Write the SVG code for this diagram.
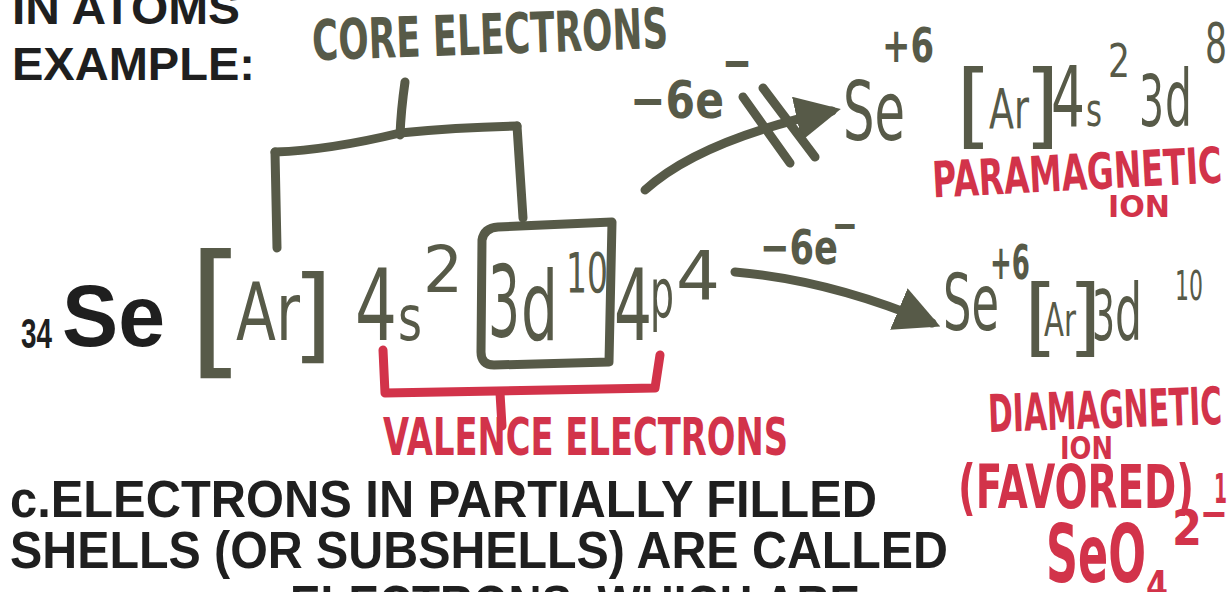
<svg xmlns="http://www.w3.org/2000/svg" width="1228" height="592" viewBox="0 0 1228 592">
<defs>
<style>
.pr{fill:#1f1f1f;font-family:"Liberation Sans",Arial,sans-serif;font-weight:bold}
.ol{fill:#575a48;font-family:"DejaVu Sans",sans-serif}
.olb{fill:#575a48;font-family:"DejaVu Sans",sans-serif;font-weight:bold}
.rd{fill:#d2334a;font-family:"DejaVu Sans",sans-serif;font-weight:bold}
.ln{stroke:#575a48;stroke-width:9;fill:none;stroke-linecap:round;stroke-linejoin:round}
.rl{stroke:#d2334a;stroke-width:9;fill:none;stroke-linecap:round;stroke-linejoin:round}
</style>
<marker id="ah" viewBox="0 0 10 10" refX="8" refY="5" markerWidth="5" markerHeight="5" markerUnits="strokeWidth" orient="auto">
<path d="M0,0 L10,5 L0,10 Z" fill="#575a48"/>
</marker>
</defs>
<rect width="1228" height="592" fill="#ffffff"/>

<g id="printed">
<text class="pr" x="12" y="24" font-size="47" textLength="228" lengthAdjust="spacingAndGlyphs">IN ATOMS</text>
<text class="pr" x="12" y="80" font-size="47" textLength="243" lengthAdjust="spacingAndGlyphs">EXAMPLE:</text>
<text class="pr" x="21" y="348" font-size="42" textLength="31" lengthAdjust="spacingAndGlyphs">34</text>
<text class="pr" x="62" y="346" font-size="88" textLength="103" lengthAdjust="spacingAndGlyphs">Se</text>
<text class="pr" x="10" y="517" font-size="52" textLength="867" lengthAdjust="spacingAndGlyphs">c.ELECTRONS IN PARTIALLY FILLED</text>
<text class="pr" x="10" y="568" font-size="52" textLength="938" lengthAdjust="spacingAndGlyphs">SHELLS (OR SUBSHELLS) ARE CALLED</text>
<text class="pr" x="290" y="622" font-size="52" textLength="570" lengthAdjust="spacingAndGlyphs">ELECTRONS, WHICH ARE</text>
</g>

<g id="core-label">
<text class="olb" x="312" y="54" font-size="56" textLength="356" lengthAdjust="spacingAndGlyphs" transform="rotate(-2 490 35)">CORE ELECTRONS</text>
</g>

<g id="se-config">
<text class="ol" x="188" y="359" font-size="146">[</text>
<text class="ol" x="236" y="340" font-size="80" textLength="64" lengthAdjust="spacingAndGlyphs">Ar</text>
<text class="ol" x="292" y="350" font-size="104">]</text>
<text class="ol" x="355" y="340" font-size="100" textLength="42" lengthAdjust="spacingAndGlyphs">4</text>
<text class="ol" x="398" y="340" font-size="62" textLength="24" lengthAdjust="spacingAndGlyphs">s</text>
<text class="ol" x="423" y="292" font-size="64" textLength="40" lengthAdjust="spacingAndGlyphs">2</text>
<path class="ln" d="M482,240 Q484,228 498,227 L612,222 L609,362 L494,365 Q481,365 481,352 Z"/>
<text class="ol" x="488" y="337" font-size="100" textLength="32" lengthAdjust="spacingAndGlyphs">3</text>
<text class="ol" x="521" y="340" font-size="96" textLength="37" lengthAdjust="spacingAndGlyphs">d</text>
<text class="ol" x="566" y="292" font-size="56" textLength="42" lengthAdjust="spacingAndGlyphs">10</text>
<text class="ol" x="614" y="340" font-size="100" textLength="38" lengthAdjust="spacingAndGlyphs">4</text>
<text class="ol" x="650" y="318" font-size="70" textLength="24" lengthAdjust="spacingAndGlyphs">p</text>
<text class="ol" x="676" y="300" font-size="68" textLength="44" lengthAdjust="spacingAndGlyphs">4</text>
</g>

<g id="valence-label">
<text class="rd" x="383" y="455" font-size="52" textLength="405" lengthAdjust="spacingAndGlyphs">VALENCE ELECTRONS</text>
</g>

<g id="ion-paramagnetic">
<text class="olb" x="630" y="118" font-size="52" textLength="94" lengthAdjust="spacingAndGlyphs">−6e</text>
<text class="olb" x="722" y="80" font-size="52" textLength="30" lengthAdjust="spacingAndGlyphs">−</text>
<text class="ol" x="843" y="140" font-size="82" textLength="62" lengthAdjust="spacingAndGlyphs">Se</text>
<text class="olb" x="882" y="62" font-size="48" textLength="52" lengthAdjust="spacingAndGlyphs">+6</text>
<text class="ol" x="956" y="137" font-size="92">[</text>
<text class="ol" x="989" y="128" font-size="56" textLength="40" lengthAdjust="spacingAndGlyphs">Ar</text>
<text class="ol" x="1024" y="137" font-size="92">]</text>
<text class="ol" x="1051" y="126" font-size="84" textLength="34" lengthAdjust="spacingAndGlyphs">4</text>
<text class="ol" x="1086" y="126" font-size="46" textLength="16" lengthAdjust="spacingAndGlyphs">s</text>
<text class="ol" x="1108" y="77" font-size="46" textLength="22" lengthAdjust="spacingAndGlyphs">2</text>
<text class="ol" x="1139" y="126" font-size="72" textLength="25" lengthAdjust="spacingAndGlyphs">3</text>
<text class="ol" x="1165" y="126" font-size="78" textLength="27" lengthAdjust="spacingAndGlyphs">d</text>
<text class="ol" x="1205" y="62" font-size="56" textLength="22" lengthAdjust="spacingAndGlyphs">8</text>
<text class="rd" x="932" y="190" font-size="50" textLength="290" lengthAdjust="spacingAndGlyphs" transform="rotate(-3 1077 170)">PARAMAGNETIC</text>
<text class="rd" x="1108" y="217" font-size="30" textLength="62" lengthAdjust="spacingAndGlyphs">ION</text>
</g>

<g id="ion-diamagnetic">
<text class="olb" x="760" y="264" font-size="48" textLength="78" lengthAdjust="spacingAndGlyphs">−6e</text>
<text class="olb" x="832" y="240" font-size="44" textLength="26" lengthAdjust="spacingAndGlyphs">−</text>
<text class="ol" x="943" y="330" font-size="78" textLength="56" lengthAdjust="spacingAndGlyphs">Se</text>
<text class="olb" x="990" y="279" font-size="48" textLength="40" lengthAdjust="spacingAndGlyphs">+6</text>
<text class="ol" x="1024" y="346" font-size="86">[</text>
<text class="ol" x="1044" y="336" font-size="46" textLength="32" lengthAdjust="spacingAndGlyphs">Ar</text>
<text class="ol" x="1068" y="346" font-size="86">]</text>
<text class="ol" x="1092" y="340" font-size="70" textLength="23" lengthAdjust="spacingAndGlyphs">3</text>
<text class="ol" x="1115" y="340" font-size="78" textLength="27" lengthAdjust="spacingAndGlyphs">d</text>
<text class="ol" x="1175" y="300" font-size="40" textLength="28" lengthAdjust="spacingAndGlyphs">10</text>
<text class="rd" x="988" y="428" font-size="52" textLength="234" lengthAdjust="spacingAndGlyphs" transform="rotate(-2 1105 410)">DIAMAGNETIC</text>
<text class="rd" x="1060" y="459" font-size="32" textLength="53" lengthAdjust="spacingAndGlyphs">ION</text>
<text class="rd" x="958" y="508" font-size="60" textLength="236" lengthAdjust="spacingAndGlyphs">(FAVORED)</text>
<text class="rd" x="1214" y="503" font-size="40" textLength="13" lengthAdjust="spacingAndGlyphs">1</text>
<text class="rd" x="1046" y="582" font-size="80" textLength="100" lengthAdjust="spacingAndGlyphs">SeO</text>
<text class="rd" x="1146" y="601" font-size="42" textLength="22" lengthAdjust="spacingAndGlyphs">4</text>
<text class="rd" x="1172" y="545" font-size="50" textLength="30" lengthAdjust="spacingAndGlyphs">2</text>
<text class="rd" x="1200" y="528" font-size="44" textLength="28" lengthAdjust="spacingAndGlyphs">−</text>
</g>

<g id="connectors">
<path class="ln" d="M405,82 Q401,110 400,135"/>
<path class="ln" d="M275,152 Q330,150 400,133 Q460,127 517,126"/>
<path class="ln" d="M275,152 L277,248"/>
<path class="ln" d="M517,126 L523,218"/>
<path class="rl" d="M383,350 L385,393 Q520,390 655,388 L660,355"/>
<path class="rl" d="M500,393 L502,426"/>
<path class="ln" d="M645,190 Q700,140 832,111" marker-end="url(#ah)"/>
<path class="ln" d="M743,97 L790,163"/>
<path class="ln" d="M763,88 L815,157"/>
<path class="ln" d="M735,272 Q830,280 932,323" marker-end="url(#ah)"/>
</g>
</svg>
